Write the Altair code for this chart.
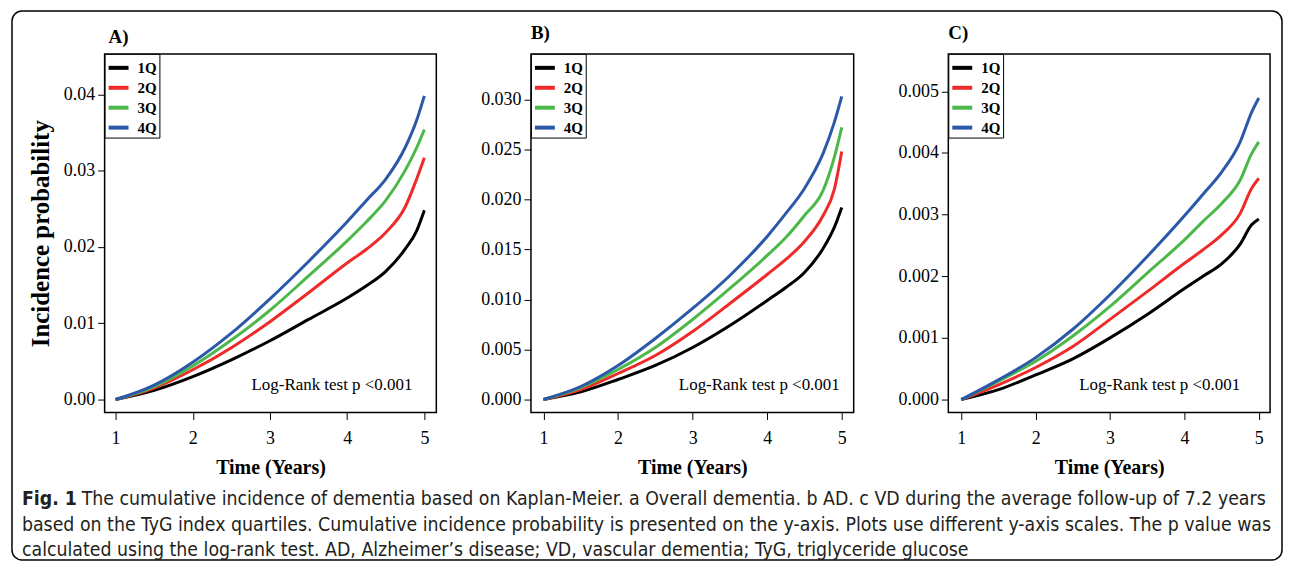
import altair as alt
import pandas as pd

# ---------------- data ----------------
groups = ["1Q", "2Q", "3Q", "4Q"]
colors = ["#000000", "#ee2a2a", "#4cb84a", "#2b58a8"]
time = [1.0, 1.5, 2.0, 2.5, 3.0, 3.5, 4.0, 4.25, 4.5, 4.75, 4.9, 5.0]

# Panel A: overall dementia
a_1q = [0, 0.0012, 0.0030, 0.0052, 0.0077, 0.0105, 0.0133, 0.0149, 0.0168, 0.0197, 0.0221, 0.0248]
a_2q = [0, 0.0015, 0.0039, 0.0068, 0.0102, 0.0140, 0.0179, 0.0197, 0.0219, 0.0252, 0.0289, 0.0317]
a_3q = [0, 0.0017, 0.0044, 0.0078, 0.0117, 0.0162, 0.0208, 0.0233, 0.0261, 0.0300, 0.0330, 0.0354]
a_4q = [0, 0.0019, 0.0049, 0.0087, 0.0132, 0.0181, 0.0233, 0.0261, 0.0289, 0.0330, 0.0366, 0.0398]

# Panel B: AD
b_1q = [0, 0.00076, 0.0020, 0.0034, 0.0052, 0.0074, 0.0099, 0.0112, 0.0127, 0.0151, 0.0172, 0.0192]
b_2q = [0, 0.0010, 0.0026, 0.0044, 0.0068, 0.0096, 0.0125, 0.0140, 0.0158, 0.0184, 0.0210, 0.0248]
b_3q = [0, 0.0012, 0.0030, 0.0052, 0.0080, 0.0111, 0.0144, 0.0162, 0.0184, 0.0209, 0.0242, 0.0272]
b_4q = [0, 0.0013, 0.0034, 0.0061, 0.0091, 0.0124, 0.0163, 0.0186, 0.0211, 0.0246, 0.0277, 0.0303]

# Panel C: VD
c_1q = [0, 0.00016, 0.0004, 0.00066, 0.0010, 0.00138, 0.0018, 0.0020, 0.0022, 0.00252, 0.00283, 0.00293]
c_2q = [0, 0.00024, 0.00052, 0.00086, 0.0013, 0.00175, 0.00221, 0.00243, 0.00267, 0.00302, 0.00342, 0.00359]
c_3q = [0, 0.0003, 0.00062, 0.00103, 0.00151, 0.00205, 0.00259, 0.00289, 0.00318, 0.00356, 0.00398, 0.00418]
c_4q = [0, 0.00032, 0.00068, 0.00114, 0.0017, 0.00232, 0.00298, 0.00333, 0.00369, 0.00418, 0.00465, 0.00489]

x_ticks = [1, 2, 3, 4, 5]
a_yticks = [0, 0.01, 0.02, 0.03, 0.04]
b_yticks = [0, 0.005, 0.010, 0.015, 0.020, 0.025, 0.030]
c_yticks = [0, 0.001, 0.002, 0.003, 0.004, 0.005]

caption_bold = "Fig. 1"
caption_l1 = ("The cumulative incidence of dementia based on Kaplan-Meier. a Overall dementia. "
              "b AD. c VD during the average follow-up of 7.2 years")
caption_l2 = ("based on the TyG index quartiles. Cumulative incidence probability is presented on the "
              "y-axis. Plots use different y-axis scales. The p value was")
caption_l3 = ("calculated using the log-rank test. AD, Alzheimer\u2019s disease; VD, vascular dementia; "
              "TyG, triglyceride glucose")

SERIF = "Liberation Serif"
CAPFONT = "DejaVu Sans Condensed, DejaVu Sans, sans-serif"


def long_df(series):
    rows = []
    for g, vals in zip(groups, series):
        for t, v in zip(time, vals):
            rows.append({"time": t, "prob": v, "group": g})
    return pd.DataFrame(rows)


def cap(text, x, y, bold=False):
    return alt.Chart(pd.DataFrame({"t": [text]})).mark_text(
        align="left", baseline="middle", font=CAPFONT, fontSize=19.4, color="#231f20",
        fontWeight="bold" if bold else "normal"
    ).encode(text="t:N", x=alt.value(x), y=alt.value(y))


def panel(series, letter, xdom, ydom, yticks, yfmt, ytitle, width, lr_x, letter_x, letter_y, extra=()):
    df = long_df(series)
    base = alt.Chart(df)
    yaxis_kwargs = dict(values=yticks, format=yfmt, grid=False, domain=False,
                        tickColor="black", tickSize=7, tickWidth=1,
                        labelFont=SERIF, labelFontSize=18, labelColor="black", labelPadding=3)
    if ytitle:
        yaxis_kwargs.update(title=ytitle, titleFont=SERIF, titleFontSize=25, titleFontWeight="bold",
                            titleColor="black", titlePadding=10)
    else:
        yaxis_kwargs.update(title="")
    lines = base.mark_line(strokeWidth=3, interpolate="monotone").encode(
        x=alt.X("time:Q", scale=alt.Scale(domain=xdom, nice=False, zero=False),
                axis=alt.Axis(values=x_ticks, format="d", grid=False, domain=False,
                              tickColor="black", tickSize=7, tickWidth=1,
                              labelFont=SERIF, labelFontSize=18, labelColor="black", labelPadding=10,
                              title="Time (Years)", titleFont=SERIF, titleFontSize=20,
                              titleFontWeight="bold", titleColor="black", titlePadding=10)),
        y=alt.Y("prob:Q", scale=alt.Scale(domain=ydom, nice=False, zero=False),
                axis=alt.Axis(**yaxis_kwargs)),
        color=alt.Color("group:N", scale=alt.Scale(domain=groups, range=colors),
                        legend=alt.Legend(title=None, orient="top-left", offset=0, padding=2,
                                          strokeColor="black", fillColor="white",
                                          symbolType="stroke", symbolSize=400, symbolStrokeWidth=4,
                                          labelFont=SERIF, labelFontSize=15, labelFontWeight="bold",
                                          labelColor="black", labelOffset=7, rowPadding=0)),
    )
    lr = alt.Chart(pd.DataFrame({"t": ["Log-Rank test p <0.001"]})).mark_text(
        align="right", baseline="middle", font=SERIF, fontSize=17, color="black"
    ).encode(text="t:N", x=alt.value(lr_x), y=alt.value(332))
    lab = alt.Chart(pd.DataFrame({"t": [letter]})).mark_text(
        align="left", baseline="middle", font=SERIF, fontSize=19, fontWeight="bold", color="black"
    ).encode(text="t:N", x=alt.value(letter_x), y=alt.value(letter_y))
    return alt.layer(lines, lr, lab, *extra).properties(width=width, height=360)


one = pd.DataFrame({"k": [0]})
border = alt.Chart(one).mark_rect(fill="transparent", stroke="black", strokeWidth=1.5,
                                  cornerRadius=10).encode(
    x=alt.value(-93), x2=alt.value(1182), y=alt.value(-43), y2=alt.value(508))

caption_layers = (
    border,
    cap(caption_bold, -83, 447, bold=True),
    cap(caption_l1, -23, 447),
    cap(caption_l2, -83, 473),
    cap(caption_l3, -83, 498),
)

pA = panel([a_1q, a_2q, a_3q, a_4q], "A)", [0.858, 5.155], [-0.0017, 0.0453], a_yticks, ".2f",
           "Incidence probability", 333, 309, 4, -17, extra=caption_layers)
pB = panel([b_1q, b_2q, b_3q, b_4q], "B)", [0.832, 5.16], [-0.0013, 0.03455], b_yticks, ".3f",
           None, 324, 310, 0, -21)
pC = panel([c_1q, c_2q, c_3q, c_4q], "C)", [0.826, 5.151], [-0.00021, 0.005606], c_yticks, ".3f",
           None, 323, 293, 0, -21)

chart = alt.hconcat(pA, pB, pC, spacing=95, bounds="flush").resolve_scale(
    color="independent", x="independent", y="independent").resolve_legend(
    color="independent").properties(
    padding={"left": 2, "top": 0, "right": 0, "bottom": 0}
).configure_view(stroke="black", strokeWidth=1.5)

chart.save("out.html", embed_options={"renderer": "svg", "actions": False})
